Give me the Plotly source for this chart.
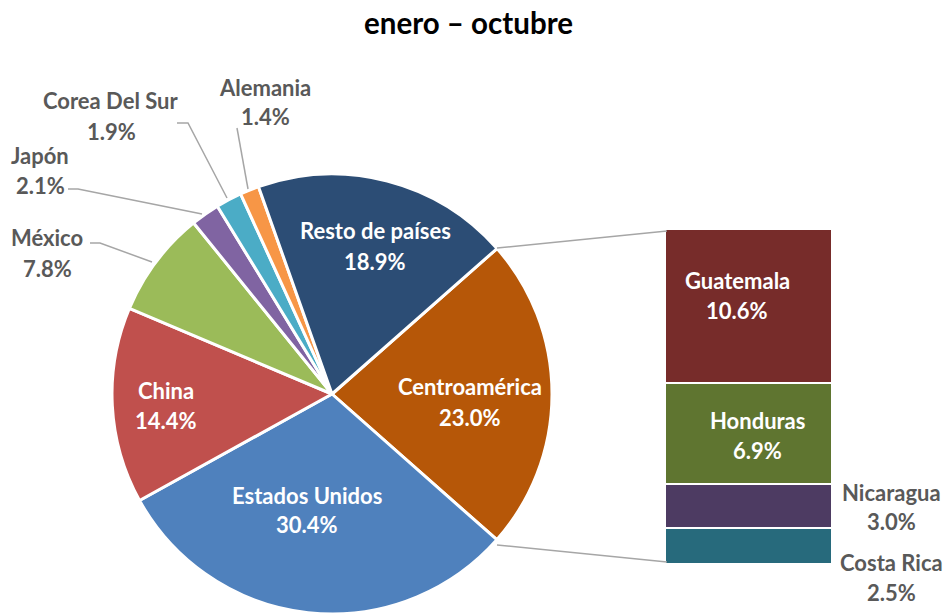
import plotly.graph_objects as go

# ---- data ----
pie_labels = ["Centroamérica", "Estados Unidos", "China", "México", "Japón",
              "Corea Del Sur", "Alemania", "Resto de países"]
pie_values = [23.0, 30.4, 14.4, 7.8, 2.1, 1.9, 1.4, 18.9]
pie_colors = ["#B65708", "#4F81BD", "#C0504D", "#9BBB59", "#8064A2",
              "#4BACC6", "#F79646", "#2C4D75"]

bar_labels = ["Costa Rica", "Nicaragua", "Honduras", "Guatemala"]
bar_values = [2.5, 3.0, 6.9, 10.6]
bar_colors = ["#276A7C", "#4D3B62", "#5F7530", "#772C2A"]

title_text = "enero – octubre"

W, H = 948, 614
FONT = "Lato, Carlito, 'Open Sans', sans-serif"
GRAY_TXT = "#595959"
LINE_GRAY = "#A6A6A6"


def px(x):
    return x / W


def py(y):
    return 1 - y / H


fig = go.Figure()

fig.add_trace(go.Pie(
    labels=pie_labels, values=pie_values, sort=False, direction="clockwise",
    rotation=90 - pie_values[0] / 100 * 360 / 2,
    marker=dict(colors=pie_colors, line=dict(color="white", width=3)),
    textinfo="none", hoverinfo="label+percent",
    domain=dict(x=[px(108), px(556)], y=[0, py(174)]),
    showlegend=False,
))

for lab, val, col in zip(bar_labels, bar_values, bar_colors):
    fig.add_trace(go.Bar(
        x=[0], y=[val], name=lab, width=1,
        marker=dict(color=col, line=dict(color="white", width=2)),
        showlegend=False, xaxis="x", yaxis="y", hoverinfo="name+y",
    ))

fig.update_layout(
    width=W, height=H,
    margin=dict(l=0, r=0, t=0, b=0),
    paper_bgcolor="white", plot_bgcolor="rgba(0,0,0,0)",
    barmode="stack",
    xaxis=dict(domain=[px(665), px(832)], range=[-0.5, 0.5], visible=False, fixedrange=True),
    yaxis=dict(domain=[py(564), py(229)], range=[0, sum(bar_values)], visible=False, fixedrange=True),
    font=dict(family=FONT),
)

annotations = []
LBL = 22


def lab2(x, y1, name, val, color, size=LBL, dy=30):
    annotations.append(dict(x=px(x), y=py(y1), xref="paper", yref="paper",
                            text=f"<b>{name}</b>", showarrow=False,
                            font=dict(family=FONT, size=size, color=color),
                            xanchor="center", yanchor="middle"))
    annotations.append(dict(x=px(x), y=py(y1 + dy), xref="paper", yref="paper",
                            text=f"<b>{val:.1f}%</b>", showarrow=False,
                            font=dict(family=FONT, size=size, color=color),
                            xanchor="center", yanchor="middle"))


# title
annotations.append(dict(x=px(468), y=py(22), xref="paper", yref="paper",
                        text=f"<b>{title_text}</b>", showarrow=False,
                        font=dict(family=FONT, size=29.5, color="black"),
                        xanchor="center", yanchor="middle"))

pv = dict(zip(pie_labels, pie_values))
bv = dict(zip(bar_labels, bar_values))

lab2(375, 231, "Resto de países", pv["Resto de países"], "white")
lab2(470, 387, "Centroamérica", pv["Centroamérica"], "white")
lab2(307, 495, "Estados Unidos", pv["Estados Unidos"], "white", dy=29)
lab2(166, 391, "China", pv["China"], "white", dy=29)
lab2(47, 238, "México", pv["México"], GRAY_TXT)
lab2(40, 155, "Japón", pv["Japón"], GRAY_TXT)
lab2(111, 101, "Corea Del Sur", pv["Corea Del Sur"], GRAY_TXT)
lab2(265, 87, "Alemania", pv["Alemania"], GRAY_TXT)
lab2(737, 280, "Guatemala", bv["Guatemala"], "white")
lab2(757, 420, "Honduras", bv["Honduras"], "white")
lab2(891, 492, "Nicaragua", bv["Nicaragua"], GRAY_TXT, dy=29)
lab2(891, 562, "Costa Rica", bv["Costa Rica"], GRAY_TXT)

fig.update_layout(annotations=annotations)

shapes = []


def path(pts, color=LINE_GRAY, width=1.5):
    d = "M " + " L ".join(f"{px(x)},{py(y)}" for x, y in pts)
    shapes.append(dict(type="path", path=d, xref="paper", yref="paper",
                       line=dict(color=color, width=width), layer="above"))


# leader lines
path([(90, 243), (100, 243), (152, 262)])
path([(68, 189), (78, 189), (202, 214)])
path([(177, 123), (188, 123), (227, 198)])
path([(237, 128), (248, 189)])
# bar-of-pie connectors
path([(497, 248), (667, 231)])
path([(497, 545), (667, 562)])

fig.update_layout(shapes=shapes)

fig.write_html("out.html", config={"displayModeBar": False},
               post_script="document.body.style.margin='0';document.body.style.overflow='hidden';")
